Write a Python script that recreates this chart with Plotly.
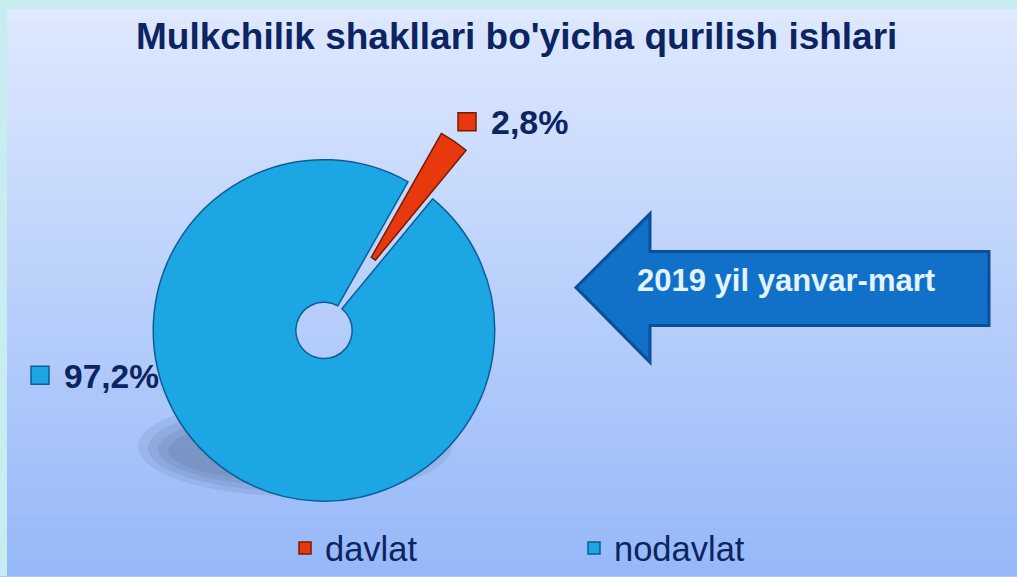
import plotly.graph_objects as go

W, H = 1017, 577

# ---- data ----
categories = ["davlat", "nodavlat"]
values = [2.8, 97.2]
slice_colors = ["#E8380D", "#1CA6E4"]
line_colors = ["#7A1A05", "#0B5E95"]
title_text = "Mulkchilik shakllari bo'yicha qurilish ishlari"
period_text = "2019 yil yanvar-mart"

NAVY = "#0C2461"
FONT = "Liberation Sans, Arial, sans-serif"


def px(x, y):
    return x / W, 1 - y / H


def hexmix(c1, c2, t):
    a = [int(c1[i:i + 2], 16) for i in (1, 3, 5)]
    b = [int(c2[i:i + 2], 16) for i in (1, 3, 5)]
    return "#" + "".join(f"{round(a[k] + (b[k] - a[k]) * t):02x}" for k in range(3))


shapes = []
# background gradient
n = 58
top_c, bot_c = "#DFE9FE", "#96B8F8"
for i in range(n):
    y0 = i * H / n
    y1 = (i + 1) * H / n + 0.6
    shapes.append(dict(type="rect", xref="paper", yref="paper", layer="below",
                       x0=0, x1=1, y0=1 - y1 / H, y1=1 - y0 / H,
                       fillcolor=hexmix(top_c, bot_c, i / (n - 1)), line_width=0))
# dotted frame (top and left)
shapes.append(dict(type="rect", xref="paper", yref="paper", layer="below",
                   x0=0, x1=1, y0=1 - 9 / H, y1=1, fillcolor="#C8EDF1", line_width=0))
shapes.append(dict(type="rect", xref="paper", yref="paper", layer="below",
                   x0=0, x1=7 / W, y0=0, y1=1, fillcolor="#C8EDF1", line_width=0))
# soft shadow under pie
for k, (x0, y0, x1, y1) in enumerate([(138, 398, 452, 497), (148, 406, 442, 492),
                                      (158, 413, 432, 487), (168, 420, 422, 482)]):
    a0, b1 = px(x0, y0)
    a1, b0 = px(x1, y1)
    shapes.append(dict(type="circle", xref="paper", yref="paper", layer="below",
                       x0=a0, x1=a1, y0=b0, y1=b1,
                       fillcolor="rgba(50,70,110,0.10)", line_width=0))

# arrow
pts = [(576, 288), (650, 214), (650, 252), (989, 252), (989, 326), (650, 326), (650, 363)]
path = "M " + " L ".join(f"{px(x, y)[0]:.5f},{px(x, y)[1]:.5f}" for x, y in pts) + " Z"
shapes.append(dict(type="path", xref="paper", yref="paper", path=path,
                   fillcolor="#1170C8", line=dict(color="#0A4F98", width=3)))

# label markers
for (x0, y0, x1, y1), c, lc in [((458, 113, 476, 131), slice_colors[0], line_colors[0]),
                                ((31, 367, 49, 385), slice_colors[1], line_colors[1])]:
    a0, b1 = px(x0, y0)
    a1, b0 = px(x1, y1)
    shapes.append(dict(type="rect", xref="paper", yref="paper", x0=a0, x1=a1, y0=b0, y1=b1,
                       fillcolor=c, line=dict(color=lc, width=1.5)))

fig = go.Figure()
fig.add_trace(go.Pie(
    labels=categories, values=values,
    marker=dict(colors=slice_colors, line=dict(color=line_colors, width=1.5)),
    hole=0.165, pull=[0.345, 0], sort=False, direction="clockwise", rotation=29.5,
    textinfo="none", hoverinfo="label+percent",
    domain=dict(x=[0.0924, 0.5447], y=[0.0277, 0.825]),
))


def fmt(v):
    return f"{v:.1f}%".replace(".", ",")


annotations = [
    dict(text=f"<b>{title_text}</b>", x=516 / W, y=1 - 37 / H, xref="paper", yref="paper",
         showarrow=False, xanchor="center", yanchor="middle",
         font=dict(family=FONT, size=37, color=NAVY)),
    dict(text=f"<b>{fmt(values[0])}</b>", x=489 / W, y=1 - 122 / H, xref="paper", yref="paper",
         showarrow=False, xanchor="left", yanchor="middle",
         font=dict(family=FONT, size=34, color=NAVY)),
    dict(text=f"<b>{fmt(values[1])}</b>", x=62 / W, y=1 - 377 / H, xref="paper", yref="paper",
         showarrow=False, xanchor="left", yanchor="middle",
         font=dict(family=FONT, size=33.5, color=NAVY)),
    dict(text=f"<b>{period_text}</b>", x=786 / W, y=1 - 281 / H, xref="paper", yref="paper",
         showarrow=False, xanchor="center", yanchor="middle",
         font=dict(family=FONT, size=31, color="#E2F4FF")),
]

fig.update_layout(
    width=W, height=H, margin=dict(l=0, r=0, t=0, b=0),
    paper_bgcolor="#C4D6FC", plot_bgcolor="rgba(0,0,0,0)",
    shapes=shapes, annotations=annotations,
    showlegend=True,
    legend=dict(orientation="h", x=285 / W, xanchor="left", y=1 - 549 / H, yanchor="middle",
                font=dict(family=FONT, size=34.5, color=NAVY), bgcolor="rgba(0,0,0,0)",
                entrywidth=244, traceorder="normal"),
)

fig.write_html("out.html", config={"displayModeBar": False},
               post_script="document.body.style.margin='0';document.body.style.overflow='hidden';")
